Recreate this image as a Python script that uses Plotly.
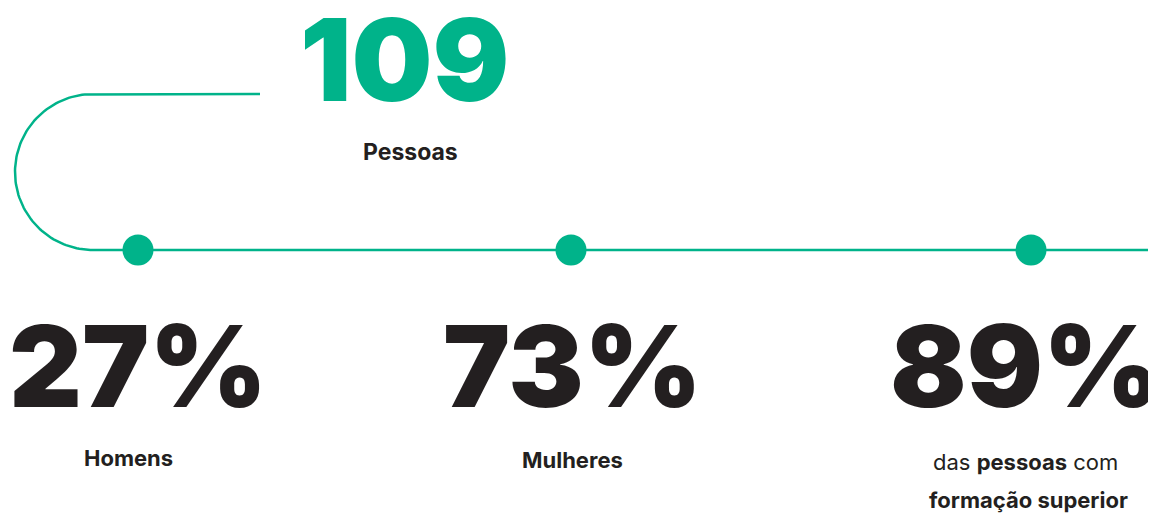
import numpy as np
import plotly.graph_objects as go

# ---- data ----
total_value = 109
total_label = "Pessoas"
pct_values = [27, 73, 89]
pct_labels = ["Homens", "Mulheres", "das <b>pessoas</b> com"]
extra_label = "formação superior"
dot_x = [138, 571, 1031]          # category positions along the timeline
text_x = [138, 572, 1025]
label_x = [128, 572, 1025]

GREEN = "#00B38A"
DARK = "#231F20"
FONT = "Inter"

W, H = 1156, 513
OFF = 8  # page body margin
fig = go.Figure()

# timeline path: top stub, left semicircle, bottom line
r = 78
cx, cy = 93, 172
theta = np.linspace(np.pi / 2, 3 * np.pi / 2, 90)
arc_x = cx + r * np.cos(theta)
arc_y = cy - r * np.sin(theta)
path_x = [260] + list(arc_x) + [1150]
path_y = [94] + list(arc_y) + [250]
fig.add_trace(go.Scatter(x=path_x, y=path_y, mode="lines",
                         line=dict(color=GREEN, width=2.5),
                         hoverinfo="skip", showlegend=False))

fig.add_trace(go.Scatter(x=dot_x, y=[250] * len(dot_x), mode="markers",
                         marker=dict(color=GREEN, size=31, line=dict(width=0)),
                         hoverinfo="skip", showlegend=False))

ann = []
ann.append(dict(x=405, y=59, text=str(total_value), showarrow=False,
                font=dict(family=FONT, size=114, color=GREEN, weight=900),
                xanchor="center", yanchor="middle"))
ann.append(dict(x=410, y=152, text=f"<b>{total_label}</b>", showarrow=False,
                font=dict(family=FONT, size=23, color=DARK),
                xanchor="center", yanchor="middle"))
for tx, v in zip(text_x, pct_values):
    ann.append(dict(x=tx, y=366, text=f"{v}%", showarrow=False,
                    font=dict(family=FONT, size=113, color=DARK, weight=900),
                    xanchor="center", yanchor="middle"))
label_y = [458, 460, 462]
for tx, lab, ly in zip(label_x, pct_labels, label_y):
    txt = lab if "<b>" in lab else "<b>" + lab + "</b>"
    ann.append(dict(x=tx, y=ly, text=txt, showarrow=False,
                    font=dict(family=FONT, size=22, color=DARK),
                    xanchor="center", yanchor="middle", align="center"))
ann.append(dict(x=1028, y=500, text=f"<b>{extra_label}</b>", showarrow=False,
                font=dict(family=FONT, size=22, color=DARK),
                xanchor="center", yanchor="middle"))

fig.update_layout(
    width=W, height=H, margin=dict(l=0, r=0, t=0, b=0),
    paper_bgcolor="white", plot_bgcolor="white",
    xaxis=dict(range=[OFF, W + OFF], visible=False, fixedrange=True),
    yaxis=dict(range=[H + OFF, OFF], visible=False, fixedrange=True),
    annotations=ann,
)
fig.write_html("out.html")
